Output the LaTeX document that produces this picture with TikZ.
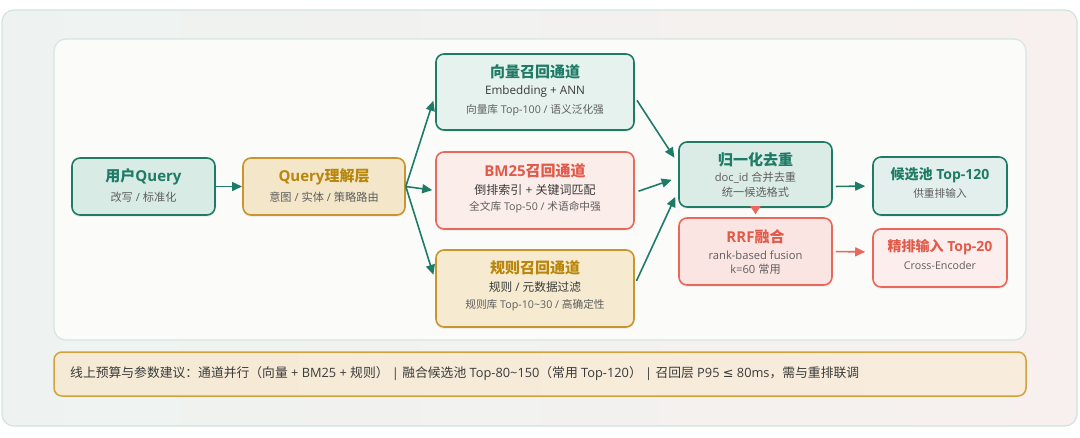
\documentclass[tikz,border=0pt]{standalone}
\usepackage{fontspec}
\setmainfont{Noto Sans CJK SC}
\newfontfamily\latfont{Open Sans}
\newfontfamily\symfont{DejaVu Sans}
\newcommand\lat[1]{{\latfont #1}}
\usetikzlibrary{arrows.meta,shadows}
\definecolor{teal}{HTML}{1E7B66}
\definecolor{gold}{HTML}{C8962C}
\definecolor{goldt}{HTML}{B8860B}
\definecolor{coral}{HTML}{E9685A}
\definecolor{coralt}{HTML}{E25A4A}
\definecolor{txtA}{HTML}{3A3A3A}
\definecolor{txtB}{HTML}{5E5E5E}
\definecolor{uqfill}{HTML}{D8EBE5}
\definecolor{vecfill}{HTML}{E6F2EE}
\definecolor{normfill}{HTML}{DBECE6}
\definecolor{candfill}{HTML}{E3EFEC}
\definecolor{qlfill}{HTML}{F3E6C9}
\definecolor{rulefill}{HTML}{F6EAD0}
\definecolor{bmfill}{HTML}{FBEDEA}
\definecolor{rrffill}{HTML}{FBE5E3}
\definecolor{rankfill}{HTML}{FCEEEC}
\definecolor{bgL}{HTML}{EEF3F1}
\definecolor{bgR}{HTML}{F7F0EE}
\definecolor{bgLine}{HTML}{D0E4DD}
\definecolor{panLine}{HTML}{D5E6E0}
\definecolor{panFill}{HTML}{FBFBFA}
\definecolor{barL}{HTML}{F5EAD5}
\definecolor{barR}{HTML}{F8ECDD}
\definecolor{barLine}{HTML}{D3A23A}
\tikzset{
  box/.style={draw, rounded corners=8pt, line width=1.6pt, inner sep=0pt,
    drop shadow={shadow xshift=0pt, shadow yshift=-2pt, opacity=0.10}},
  ttl/.style={font=\fontsize{15}{17}\selectfont\bfseries, inner sep=0pt},
  lnA/.style={font=\fontsize{11.7}{13}\selectfont, text=txtA, inner sep=0pt},
  lnB/.style={font=\fontsize{10.7}{12}\selectfont, text=txtB, inner sep=0pt},
  lnC/.style={font=\fontsize{11.2}{12}\selectfont, text=txtB, inner sep=0pt},
  arr/.style={line width=1.6pt, -{Triangle[length=10pt,width=9pt]}},
}
\begin{document}
\begin{tikzpicture}[x=1pt,y=-1pt]
\useasboundingbox (0,0) rectangle (1080,437);
% frames
\shade[left color=bgL, right color=bgR, rounded corners=12pt]
  (2,10) rectangle (1077,426);
\draw[draw=bgLine, line width=1.2pt, rounded corners=12pt]
  (2,10) rectangle (1077,426);
\draw[draw=panLine, fill=panFill, line width=1.2pt, rounded corners=12pt]
  (54,39) rectangle (1026,340);

% nodes
\node[box, draw=teal, fill=uqfill, minimum width=143pt, minimum height=57pt] (uq) at (143.5,186.5) {};
\node[ttl, text=teal] (uqt) at (143.5,176.5) {用户\lat{Query}};
\node[lnC] (uqs) at (143.5,197) {改写\lat{ / }标准化};

\node[box, draw=gold, fill=qlfill, minimum width=162pt, minimum height=57pt] (ql) at (324,186.5) {};
\node[ttl, text=goldt] (qlt) at (324,176.5) {\lat{Query}理解层};
\node[lnC] (qls) at (324,197) {意图\lat{ / }实体\lat{ / }策略路由};

\node[box, draw=teal, fill=vecfill, minimum width=198pt, minimum height=76pt] (vec) at (535,92) {};
\node[ttl, text=teal] (vect) at (535,72) {向量召回通道};
\node[lnA] (vecs) at (535,91.5) {\lat{Embedding + ANN}};
\node[lnB] (vecd) at (535,110) {向量库\lat{ Top-100 / }语义泛化强};

\node[box, draw=coral, fill=bmfill, minimum width=198pt, minimum height=77pt] (bm) at (535,190.5) {};
\node[ttl, text=coralt] (bmt) at (535,170.5) {\lat{BM25}召回通道};
\node[lnA, font=\fontsize{12}{13}\selectfont] (bms) at (535,190) {倒排索引\lat{ + }关键词匹配};
\node[lnB] (bmd) at (535,207) {全文库\lat{ Top-50 / }术语命中强};

\node[box, draw=gold, fill=rulefill, minimum width=198pt, minimum height=77pt] (rule) at (535,288.5) {};
\node[ttl, text=goldt] (rulet) at (535,268) {规则召回通道};
\node[lnA] (rules) at (535,287.5) {规则\lat{ / }元数据过滤};
\node[lnB] (ruled) at (535,305) {规则库\lat{ Top-10\textasciitilde30 / }高确定性};

\node[box, draw=teal, fill=normfill, minimum width=153pt, minimum height=65pt] (norm) at (755.5,174.5) {};
\node[ttl, text=teal] (normt) at (755.5,159.5) {归一化去重};
\node[lnC] (norms) at (755.5,178) {\lat{doc\_id }合并去重};
\node[lnC] (normd) at (755.5,192) {统一候选格式};

\node[box, draw=coral, fill=rrffill, minimum width=153pt, minimum height=67pt] (rrf) at (755.5,251.5) {};
\node[ttl, text=coralt] (rrft) at (755.5,236.5) {\lat{RRF}融合};
\node[lnC] (rrfs) at (755.5,255.5) {\lat{rank-based fusion}};
\node[lnC] (rrfd) at (755.5,269) {\lat{k=60 }常用};

\node[box, draw=teal, fill=candfill, minimum width=134pt, minimum height=58pt] (cand) at (940,186) {};
\node[ttl, font=\fontsize{14}{16}\selectfont\bfseries, text=teal] (candt) at (940,175) {候选池\lat{ Top-120}};
\node[lnB] (cands) at (940,193) {供重排输入};

\node[box, draw=coral, fill=rankfill, minimum width=134pt, minimum height=58pt] (rank) at (940,258) {};
\node[ttl, font=\fontsize{14}{16}\selectfont\bfseries, text=coralt] (rankt) at (940,247.5) {精排输入\lat{ Top-20}};
\node[lnB] (ranks) at (940,265) {\lat{Cross-Encoder}};

% bottom bar
\shade[left color=barL, right color=barR, rounded corners=8pt]
  (54,352) rectangle (1026,396);
\draw[draw=barLine, line width=1.5pt, rounded corners=8pt]
  (54,352) rectangle (1026,396);
\node[anchor=west, inner sep=0pt, font=\fontsize{12.8}{14}\selectfont, text=txtA] (bar) at (70,374)
  {线上预算与参数建议：通道并行（向量\lat{ + BM25 + }规则）\lat{ | }融合候选池\lat{ Top-80\textasciitilde150}（常用\lat{ Top-120}）\lat{ | }召回层\lat{ P95 }{\symfont ≤}\lat{ 80ms}，需与重排联调};

% connectors
\coordinate (qlin) at (242,186.5);
\draw[arr, teal] (uq.east) -- (qlin);
\draw[arr, teal, shorten >=6pt] (ql.east) -- ([yshift=-3pt]vec.west);
\draw[arr, teal, shorten >=3pt] (ql.east) -- (bm.west);
\draw[arr, teal, shorten >=6pt] (ql.east) -- ([yshift=8pt]rule.west);
\draw[arr, teal, shorten <=4pt, shorten >=7pt] ([yshift=-5pt]vec.east) -- ([yshift=11pt]norm.west);
\draw[arr, teal, shorten <=4pt, shorten >=7pt] ([yshift=-2pt]bm.east) -- ([yshift=-3pt]norm.west);
\draw[arr, teal, shorten <=4pt, shorten >=7pt] ([yshift=4pt]rule.east) -- ([yshift=-16pt]norm.west);
\draw[arr, teal, shorten <=3pt, shorten >=7pt] ([yshift=-12pt]norm.east) -- (cand.west);
\draw[arr, coral, shorten <=3pt, shorten >=7pt] (rrf.east) -- ([yshift=6pt]rank.west);
\draw[coral, line width=1.6pt, shorten >=3pt, -{Triangle[length=8pt,width=10pt]}] (norm.south) -- (rrf.north);
\end{tikzpicture}
\end{document}
